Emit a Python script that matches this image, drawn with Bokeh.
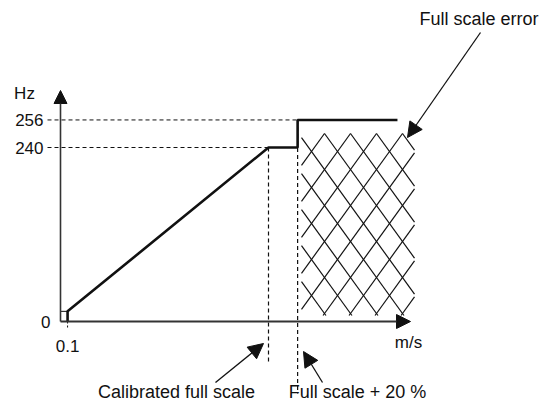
from bokeh.plotting import figure
from bokeh.models import Range1d, Arrow, NormalHead, Label
from bokeh.embed import file_html
from bokeh.resources import INLINE

# ---------------- data (schematic diagram) ----------------
freq_tick_labels = ["0", "240", "256"]
freq_tick_pos = [0, 240, 278]            # schematic vertical positions (not to scale)
speed_tick_labels = ["0.1"]
speed_tick_pos = [3.4]
start_step = 14                            # small step at 0.1 m/s
cal_full_scale_x = 100                     # calibrated full scale
full_scale_20_x = 114                      # full scale + 20 %
curve_end_x = 162
curve_x = [speed_tick_pos[0], speed_tick_pos[0], cal_full_scale_x,
           full_scale_20_x, full_scale_20_x, curve_end_x]
curve_y = [freq_tick_pos[0], start_step, freq_tick_pos[1],
           freq_tick_pos[1], freq_tick_pos[2], freq_tick_pos[2]]

# ---------------- layout helpers (pixel -> data) ----------------
W, H = 539, 400
def X(px):
    return (px - 60) / 2.08
def Y(py):
    return (321 - py) / 0.725

p = figure(width=W, height=H, x_range=Range1d(X(0), X(W)),
           y_range=Range1d(Y(H), Y(0)), output_backend="svg",
           toolbar_location=None, min_border=0,
           x_axis_type=None, y_axis_type=None)
p.outline_line_color = None
p.background_fill_color = "white"

ink = "#111111"
FONT = "Liberation Sans"
FS_TICK = "17px"
FS_NOTE = "18px"

# ---------------- hatch (cross lattice) ----------------
d, h = 26.0, 36.0
s = h / d
x1, x2, y1, y2 = 301, 414, 133, 315
px0, py0 = 350, 133
xs, ys = [], []
for k in range(-25, 26):
    c = py0 + s * px0 + k * h          # "/" : y = -s x + c
    a = max(x1, (c - y2) / s)
    b = min(x2, (c - y1) / s)
    if b - a > 1:
        xs.append([X(a), X(b)])
        ys.append([Y(-s * a + c), Y(-s * b + c)])
    c2 = py0 - s * px0 + k * h         # "\" : y = s x + c
    a = max(x1, (y1 - c2) / s)
    b = min(x2, (y2 - c2) / s)
    if b - a > 1:
        xs.append([X(a), X(b)])
        ys.append([Y(s * a + c2), Y(s * b + c2)])
p.multi_line(xs, ys, line_color=ink, line_width=1.2)

# ---------------- dashed guide lines ----------------
dash = "4 3"
p.line([X(47), full_scale_20_x], [freq_tick_pos[2]] * 2, line_color=ink,
       line_width=1, line_dash=dash)
p.line([X(47), cal_full_scale_x], [freq_tick_pos[1]] * 2, line_color=ink,
       line_width=1, line_dash=dash)
p.line([cal_full_scale_x] * 2, [freq_tick_pos[1], Y(362)], line_color=ink,
       line_width=1.2, line_dash=dash)
p.line([full_scale_20_x] * 2, [freq_tick_pos[2], Y(393)], line_color=ink,
       line_width=1.2, line_dash=dash)
# small marks at the origin
p.line([0, speed_tick_pos[0]], [start_step] * 2, line_color=ink, line_width=1)
p.line([speed_tick_pos[0]] * 2, [0, Y(329)], line_color=ink, line_width=1,
       line_dash="2 2")

# ---------------- axes with arrows ----------------
axis_col = "#333333"
p.add_layout(Arrow(end=NormalHead(size=13, fill_color=ink, line_color=ink),
                   x_start=0, y_start=0, x_end=0, y_end=Y(90),
                   line_color=axis_col, line_width=1.6))
p.add_layout(Arrow(end=NormalHead(size=14, fill_color=ink, line_color=ink),
                   x_start=0, y_start=0, x_end=X(410), y_end=0,
                   line_color=axis_col, line_width=1.8))

# ---------------- transfer curve ----------------
p.line(curve_x, curve_y, line_color=ink, line_width=2.6)

# ---------------- tick labels ----------------
for lab, pos in zip(freq_tick_labels, freq_tick_pos):
    xr = X(50) if lab == "0" else X(43)
    p.add_layout(Label(x=xr, y=pos, text=lab, text_align="right",
                       text_baseline="middle", text_font=FONT,
                       text_font_size=FS_TICK, text_color=ink))
for lab, pos in zip(speed_tick_labels, speed_tick_pos):
    p.add_layout(Label(x=pos, y=Y(345), text=lab, text_align="center",
                       text_baseline="middle", text_font=FONT,
                       text_font_size=FS_TICK, text_color=ink))
p.add_layout(Label(x=X(24), y=Y(93), text="Hz", text_align="center",
                   text_baseline="middle", text_font=FONT,
                   text_font_size=FS_TICK, text_color=ink))
p.add_layout(Label(x=X(408), y=Y(342), text="m/s", text_align="center",
                   text_baseline="middle", text_font=FONT,
                   text_font_size=FS_TICK, text_color=ink))

# ---------------- annotations ----------------
p.add_layout(Label(x=X(538), y=Y(18), text="Full scale error",
                   text_align="right", text_baseline="middle", text_font=FONT,
                   text_font_size=FS_NOTE, text_color=ink))
p.add_layout(Label(x=X(176), y=Y(391), text="Calibrated full scale",
                   text_align="center", text_baseline="middle", text_font=FONT,
                   text_font_size=FS_NOTE, text_color=ink))
p.add_layout(Label(x=X(357), y=Y(391), text="Full scale + 20 %",
                   text_align="center", text_baseline="middle", text_font=FONT,
                   text_font_size=FS_NOTE, text_color=ink))

def pointer(xa, ya, xb, yb):
    p.add_layout(Arrow(end=NormalHead(size=15, fill_color=ink, line_color=ink),
                       x_start=X(xa), y_start=Y(ya), x_end=X(xb), y_end=Y(yb),
                       line_color=ink, line_width=1.3))

pointer(480, 32, 407, 137)
pointer(215, 382, 263, 343)
pointer(322, 382, 303, 351)

open("out.html", "w").write(file_html(p, INLINE))
